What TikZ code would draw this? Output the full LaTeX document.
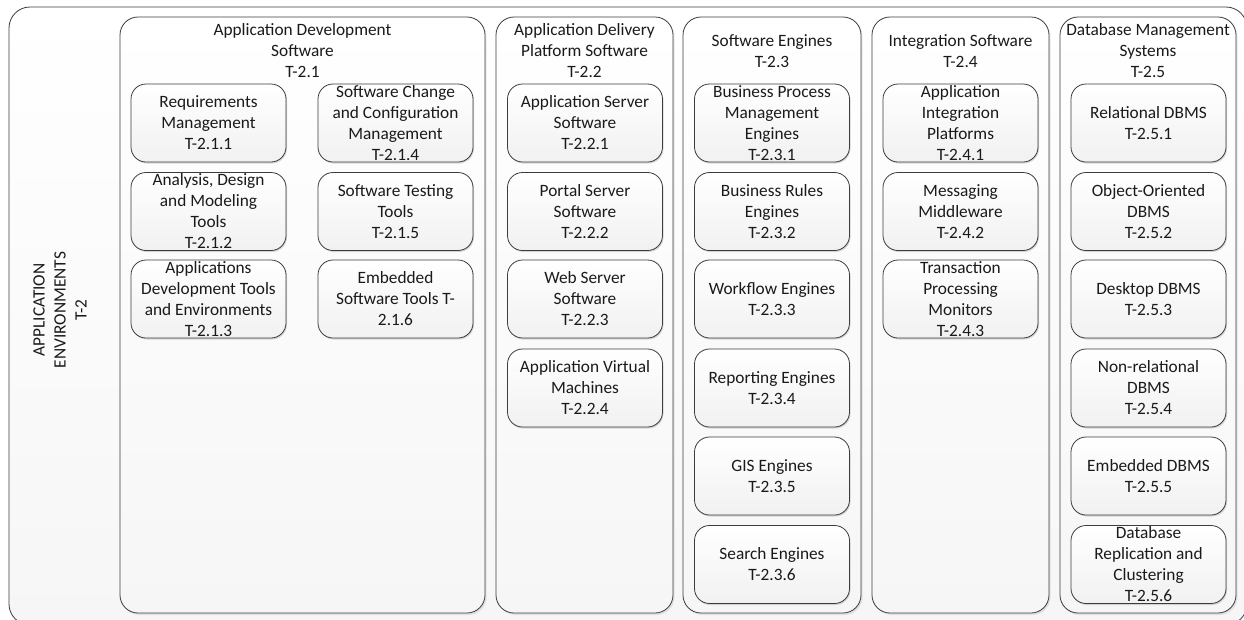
\documentclass[tikz,border=0pt]{standalone}
\usepackage{fontspec}
\setmainfont{Carlito}
\usetikzlibrary{shadows}
\definecolor{edge}{HTML}{3C3C3C}
\definecolor{ink}{HTML}{1A1A1A}
\begin{document}
\begin{tikzpicture}[x=1pt, y=-1pt, font=\fontsize{17.3}{21}\selectfont, text=ink, line join=round,
	frame/.style={draw=edge, line width=0.8pt, rounded corners=21pt, top color=white, bottom color=gray!7},
	group/.style={draw=edge, line width=0.8pt, rounded corners=18pt, top color=white, bottom color=gray!7, drop shadow={opacity=0.18, shadow xshift=1.5pt, shadow yshift=-2pt}},
	head/.style={align=center, inner sep=0pt},
	item/.style={draw=edge, line width=0.8pt, rounded corners=15pt, top color=white, bottom color=gray!11, minimum width=155pt, minimum height=78pt, align=center, inner sep=0pt, drop shadow={opacity=0.3, shadow xshift=1pt, shadow yshift=-1.5pt}}]
	\useasboundingbox (0,0) rectangle (1244,619);
	\begin{scope}
		\clip (0,0) rectangle (1244,619);
		\path[frame] (9,7) rectangle (1247,625);
	\end{scope}
	\node[head, rotate=90] (env) at (60,310) {APPLICATION\\ENVIRONMENTS\\T-2};
	\path[group] (120,17) rectangle (485,613);
	\path[group] (496,17) rectangle (673,613);
	\path[group] (683,17) rectangle (861,613);
	\path[group] (872,17) rectangle (1049,613);
	\path[group] (1060,17) rectangle (1236,613);
	\node[head] (ads) at (302.5,51) {Application Development\\Software\\T-2.1};
	\node[head] (adp) at (584.5,51) {Application Delivery\\Platform Software\\T-2.2};
	\node[head] (eng) at (772,51) {Software Engines\\T-2.3};
	\node[head] (int) at (960.5,51) {Integration Software\\T-2.4};
	\node[head] (db) at (1148,51) {Database Management\\Systems\\T-2.5};
	\node[item] (t211) at (208.5,123) {Requirements\\Management\\T-2.1.1};
	\node[item] (t212) at (208.5,211.5) {Analysis, Design\\and Modeling\\Tools\\T-2.1.2};
	\node[item] (t213) at (208.5,299) {Applications\\Development Tools\\and Environments\\T-2.1.3};
	\node[item] (t214) at (395.5,123) {Software Change\\and Configuration\\Management\\T-2.1.4};
	\node[item] (t215) at (395.5,211.5) {Software Testing\\Tools\\T-2.1.5};
	\node[item] (t216) at (395.5,299) {Embedded\\Software Tools T-\\2.1.6};
	\node[item] (t221) at (585,123) {Application Server\\Software\\T-2.2.1};
	\node[item] (t222) at (585,211.5) {Portal Server\\Software\\T-2.2.2};
	\node[item] (t223) at (585,299) {Web Server\\Software\\T-2.2.3};
	\node[item] (t224) at (585,388) {Application Virtual\\Machines\\T-2.2.4};
	\node[item] (t231) at (772,123) {Business Process\\Management\\Engines\\T-2.3.1};
	\node[item] (t232) at (772,211.5) {Business Rules\\Engines\\T-2.3.2};
	\node[item] (t233) at (772,299) {Workflow Engines\\T-2.3.3};
	\node[item] (t234) at (772,388) {Reporting Engines\\T-2.3.4};
	\node[item] (t235) at (772,476) {GIS Engines\\T-2.3.5};
	\node[item] (t236) at (772,564.5) {Search Engines\\T-2.3.6};
	\node[item] (t241) at (960.5,123) {Application\\Integration\\Platforms\\T-2.4.1};
	\node[item] (t242) at (960.5,211.5) {Messaging\\Middleware\\T-2.4.2};
	\node[item] (t243) at (960.5,299) {Transaction\\Processing\\Monitors\\T-2.4.3};
	\node[item] (t251) at (1148.5,123) {Relational DBMS\\T-2.5.1};
	\node[item] (t252) at (1148.5,211.5) {Object-Oriented\\DBMS\\T-2.5.2};
	\node[item] (t253) at (1148.5,299) {Desktop DBMS\\T-2.5.3};
	\node[item] (t254) at (1148.5,388) {Non-relational\\DBMS\\T-2.5.4};
	\node[item] (t255) at (1148.5,476) {Embedded DBMS\\T-2.5.5};
	\node[item] (t256) at (1148.5,564.5) {Database\\Replication and\\Clustering\\T-2.5.6};
\end{tikzpicture}
\end{document}
